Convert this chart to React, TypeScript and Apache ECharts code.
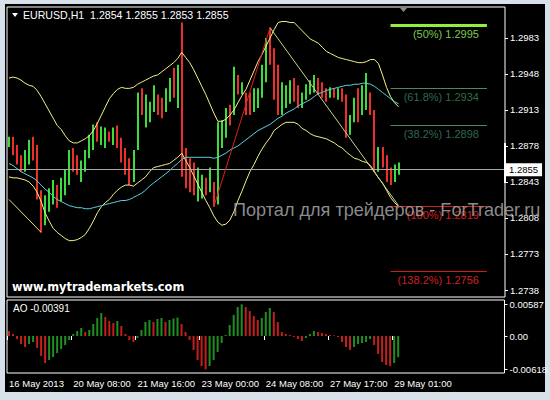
import React, { useEffect, useRef } from "react";
import * as echarts from "echarts";

// ---------- texts ----------
const titleText = "EURUSD,H1\u00a0\u00a01.2854 1.2855 1.2853 1.2855";
const watermarkSite = "www.mytrademarkets.com";
const watermarkPortal = "Портал для трейдеров - ForTrader.ru";

// ---------- axes ----------
const slotCount = 124; // 2-hour slots on the time axis (incl. empty right margin)
const timeTickIndex = [0, 16, 32, 48, 64, 80, 96];
const timeTickLabels = ["16 May 2013", "20 May 08:00", "21 May 16:00", "23 May 00:00", "24 May 08:00", "27 May 17:00", "29 May 01:00"];
const priceTicks = [1.2738, 1.2773, 1.2808, 1.2843, 1.2878, 1.2913, 1.2948, 1.2983];
const priceMin = 1.27312;
const priceMax = 1.30131;
const aoTicks = [-0.00618, 0, 0.00587];
const aoMin = -0.00685;
const aoMax = 0.00667;

// ---------- price bars: [open, close, low, high] ----------
const ohlc: number[][] = [
  [1.2878, 1.2886, 1.2877, 1.2887], [1.2886, 1.2872, 1.2869, 1.2887], [1.2872, 1.2862, 1.2860, 1.2879], [1.2862, 1.2856, 1.2853, 1.2869],
  [1.2856, 1.2870, 1.2853, 1.2874], [1.2868, 1.2882, 1.2860, 1.2884], [1.2882, 1.2866, 1.2864, 1.2887], [1.2866, 1.2830, 1.2826, 1.2879],
  [1.2830, 1.2806, 1.2794, 1.2835], [1.2806, 1.2822, 1.2801, 1.2830], [1.2820, 1.2832, 1.2814, 1.2837], [1.2826, 1.2840, 1.2821, 1.2845],
  [1.2840, 1.2824, 1.2818, 1.2840], [1.2826, 1.2842, 1.2824, 1.2847], [1.2838, 1.2852, 1.2830, 1.2855], [1.2845, 1.2870, 1.2840, 1.2874],
  [1.2870, 1.2856, 1.2853, 1.2876], [1.2862, 1.2852, 1.2850, 1.2869], [1.2848, 1.2860, 1.2843, 1.2864], [1.2858, 1.2870, 1.2853, 1.2874],
  [1.2868, 1.2884, 1.2866, 1.2889], [1.2878, 1.2896, 1.2874, 1.2899], [1.2898, 1.2884, 1.2882, 1.2901], [1.2882, 1.2894, 1.2879, 1.2897],
  [1.2880, 1.2892, 1.2876, 1.2896], [1.2892, 1.2884, 1.2882, 1.2892], [1.2882, 1.2894, 1.2879, 1.2896], [1.2896, 1.2880, 1.2876, 1.2898],
  [1.2884, 1.2866, 1.2862, 1.2886], [1.2870, 1.2852, 1.2850, 1.2876], [1.2860, 1.2843, 1.2840, 1.2866], [1.2845, 1.2870, 1.2843, 1.2874],
  [1.2876, 1.2925, 1.2874, 1.2930], [1.2925, 1.2910, 1.2908, 1.2934], [1.2900, 1.2922, 1.2896, 1.2928], [1.2906, 1.2918, 1.2901, 1.2921],
  [1.2914, 1.2932, 1.2911, 1.2937], [1.2926, 1.2912, 1.2908, 1.2928], [1.2920, 1.2908, 1.2905, 1.2925], [1.2912, 1.2930, 1.2911, 1.2934],
  [1.2924, 1.2940, 1.2921, 1.2944], [1.2950, 1.2926, 1.2925, 1.2954], [1.2918, 1.2950, 1.2915, 1.2957], [1.2948, 1.2855, 1.2848, 1.2998],
  [1.2866, 1.2840, 1.2837, 1.2876], [1.2858, 1.2836, 1.2833, 1.2866], [1.2850, 1.2832, 1.2830, 1.2862], [1.2826, 1.2850, 1.2824, 1.2857],
  [1.2830, 1.2846, 1.2827, 1.2850], [1.2845, 1.2832, 1.2830, 1.2847], [1.2835, 1.2852, 1.2833, 1.2857], [1.2843, 1.2822, 1.2819, 1.2843],
  [1.2824, 1.2896, 1.2821, 1.2901], [1.2880, 1.2900, 1.2876, 1.2903], [1.2890, 1.2912, 1.2886, 1.2915], [1.2915, 1.2902, 1.2898, 1.2918],
  [1.2910, 1.2950, 1.2908, 1.2955], [1.2945, 1.2930, 1.2928, 1.2947], [1.2930, 1.2938, 1.2928, 1.2940], [1.2930, 1.2912, 1.2908, 1.2930],
  [1.2928, 1.2912, 1.2908, 1.2930], [1.2914, 1.2930, 1.2911, 1.2934], [1.2918, 1.2932, 1.2915, 1.2934], [1.2928, 1.2952, 1.2925, 1.2957],
  [1.2945, 1.2978, 1.2940, 1.2983], [1.2986, 1.2962, 1.2957, 1.2993], [1.2966, 1.2928, 1.2923, 1.2973], [1.2945, 1.2912, 1.2908, 1.2957],
  [1.2912, 1.2936, 1.2908, 1.2940], [1.2920, 1.2934, 1.2915, 1.2937], [1.2922, 1.2938, 1.2919, 1.2942], [1.2940, 1.2924, 1.2921, 1.2944],
  [1.2932, 1.2918, 1.2915, 1.2937], [1.2918, 1.2928, 1.2915, 1.2930], [1.2925, 1.2935, 1.2923, 1.2938], [1.2930, 1.2940, 1.2928, 1.2942],
  [1.2935, 1.2945, 1.2930, 1.2947], [1.2944, 1.2932, 1.2928, 1.2944], [1.2938, 1.2928, 1.2925, 1.2940], [1.2932, 1.2924, 1.2921, 1.2934],
  [1.2926, 1.2933, 1.2925, 1.2935], [1.2933, 1.2926, 1.2925, 1.2934], [1.2925, 1.2932, 1.2923, 1.2934], [1.2932, 1.2924, 1.2921, 1.2934],
  [1.2926, 1.2890, 1.2886, 1.2928], [1.2890, 1.2904, 1.2889, 1.2908], [1.2904, 1.2920, 1.2901, 1.2925], [1.2930, 1.2906, 1.2901, 1.2934],
  [1.2910, 1.2932, 1.2908, 1.2937], [1.2920, 1.2945, 1.2913, 1.2949], [1.2928, 1.2912, 1.2908, 1.2930], [1.2912, 1.2858, 1.2853, 1.2913],
  [1.2858, 1.2872, 1.2853, 1.2877], [1.2874, 1.2862, 1.2857, 1.2877], [1.2864, 1.2848, 1.2843, 1.2869], [1.2852, 1.2844, 1.2840, 1.2857],
  [1.2844, 1.2856, 1.2843, 1.2860], [1.2851, 1.2855, 1.2850, 1.2862],
];

// ---------- indicators ----------
const bbUpper = [
  1.2944, 1.2945, 1.2944, 1.2942, 1.2939, 1.2937, 1.2936, 1.2932, 1.2926, 1.2919,
  1.2912, 1.2905, 1.2898, 1.2894, 1.2888, 1.2883, 1.2881, 1.2881, 1.2883, 1.2885,
  1.2888, 1.2893, 1.2900, 1.2908, 1.2916, 1.2924, 1.2929, 1.2933, 1.2935, 1.2934,
  1.2934, 1.2935, 1.2938, 1.2940, 1.2942, 1.2944, 1.2946, 1.2947, 1.2950, 1.2953,
  1.2956, 1.2959, 1.2963, 1.2969, 1.2964, 1.2959, 1.2952, 1.2944, 1.2936, 1.2928,
  1.2919, 1.2910, 1.2902, 1.2902, 1.2904, 1.2908, 1.2913, 1.2920, 1.2927, 1.2933,
  1.2942, 1.2951, 1.2960, 1.2967, 1.2975, 1.2983, 1.2991, 1.2998, 1.2999, 1.2999,
  1.2998, 1.2998, 1.2994, 1.2990, 1.2986, 1.2982, 1.2980, 1.2978, 1.2974, 1.2970,
  1.2968, 1.2966, 1.2964, 1.2963, 1.2962, 1.2961, 1.2960, 1.2959, 1.2959, 1.2960,
  1.2962, 1.2962, 1.2958, 1.2947, 1.2935, 1.2926, 1.2920, 1.2916,
];
const bbLower = [
  1.2848, 1.2847, 1.2847, 1.2846, 1.2845, 1.2843, 1.2839, 1.2833, 1.2824, 1.2813,
  1.2805, 1.2798, 1.2794, 1.2791, 1.2788, 1.2786, 1.2786, 1.2787, 1.2789, 1.2792,
  1.2798, 1.2805, 1.2813, 1.2819, 1.2823, 1.2826, 1.2831, 1.2835, 1.2838, 1.2840,
  1.2840, 1.2839, 1.2842, 1.2845, 1.2848, 1.2853, 1.2857, 1.2858, 1.2859, 1.2860,
  1.2861, 1.2864, 1.2867, 1.2871, 1.2864, 1.2857, 1.2849, 1.2841, 1.2833, 1.2825,
  1.2818, 1.2810, 1.2804, 1.2801, 1.2802, 1.2806, 1.2814, 1.2825, 1.2834, 1.2844,
  1.2853, 1.2860, 1.2868, 1.2875, 1.2881, 1.2886, 1.2893, 1.2896, 1.2899, 1.2901,
  1.2901, 1.2901, 1.2899, 1.2895, 1.2893, 1.2890, 1.2888, 1.2887, 1.2886, 1.2885,
  1.2883, 1.2881, 1.2878, 1.2876, 1.2872, 1.2869, 1.2866, 1.2865, 1.2863, 1.2862,
  1.2859, 1.2853, 1.2847, 1.2842, 1.2835, 1.2828, 1.2823, 1.2819,
];
const movingAverage = [
  1.2861, 1.2859, 1.2856, 1.2853, 1.2851, 1.2849, 1.2847, 1.2844, 1.2840, 1.2836,
  1.2833, 1.2829, 1.2826, 1.2824, 1.2822, 1.2820, 1.2819, 1.2818, 1.2818, 1.2817,
  1.2817, 1.2818, 1.2819, 1.2820, 1.2821, 1.2822, 1.2823, 1.2824, 1.2825, 1.2825,
  1.2826, 1.2828, 1.2830, 1.2832, 1.2835, 1.2839, 1.2842, 1.2845, 1.2848, 1.2851,
  1.2854, 1.2858, 1.2861, 1.2865, 1.2867, 1.2867, 1.2867, 1.2867, 1.2867, 1.2867,
  1.2867, 1.2866, 1.2867, 1.2869, 1.2871, 1.2874, 1.2876, 1.2878, 1.2881, 1.2884,
  1.2887, 1.2890, 1.2893, 1.2895, 1.2897, 1.2899, 1.2902, 1.2905, 1.2907, 1.2910,
  1.2912, 1.2914, 1.2917, 1.2919, 1.2921, 1.2923, 1.2926, 1.2929, 1.2930, 1.2932,
  1.2933, 1.2934, 1.2935, 1.2936, 1.2937, 1.2937, 1.2938, 1.2938, 1.2939, 1.2939,
  1.2938, 1.2936, 1.2933, 1.2930, 1.2927, 1.2924, 1.2921, 1.2919,
];
const aoValues = [
  0.00093, 0.00037, -0.00056, -0.00148, -0.00204, -0.00148, -0.00111, -0.00222, -0.0037, -0.005,
  -0.00444, -0.00389, -0.00315, -0.00241, -0.00167, -0.00074, 0.00037, 0.00093, 0.00148, 0.00074,
  0.00111, 0.00222, 0.00333, 0.00426, 0.00352, 0.00278, 0.00241, 0.00278, 0.00185, 0.00037,
  -0.00074, -0.00111, -0.00037, 0.00111, 0.00259, 0.00296, 0.00259, 0.00315, 0.00333, 0.00259,
  0.00296, 0.00324, 0.00343, 0.00222, 0.00074, -0.00074, -0.00259, -0.00444, -0.00556, -0.00618,
  -0.00556, -0.00444, -0.00296, -0.0013, 0.00019, 0.00204, 0.00389, 0.00537, 0.00587, 0.00537,
  0.00463, 0.0037, 0.00296, 0.00333, 0.00444, 0.00519, 0.00444, 0.00259, 0.00074, 0.00037,
  0.00019, -0.00019, -0.00056, -0.00093, -0.00037, 0.00037, 0.00093, 0.00074, 0.00056, 0.00037,
  0.00019, 0.00009, -0.00019, -0.00111, -0.00204, -0.00259, -0.00204, -0.00148, -0.0013, -0.00111,
  -0.00056, -0.00167, -0.00333, -0.00481, -0.00537, -0.00556, -0.005, -0.00391,
];

// ---------- fibonacci & trend lines ----------
const fibNames = ["50%", "61.8%", "38.2%", "100%", "138.2%"];
const fibPrices = [1.2995, 1.2934, 1.2898, 1.2819, 1.2756];
const fibFromSlot = 95;
const fibToSlot = 119;
const trendUp = [[51, 1.2819], [65, 1.2993]];
const trendDown = [[65, 1.2993], [97, 1.282]];
const trendOld = [[0, 1.2826], [8, 1.2794]];

// ---------- styles ----------
const BULL = "#3ddc3d";
const BEAR = "#ec2f2a";
const AO_UP = "#1f8f22";
const AO_DOWN = "#c41f1c";
const fibLineColors = ["#8fef3a", "#4a8a62", "#4a8a62", "#d21c1c", "#d21c1c"];
const fibTextColors = ["#7cc84c", "#2f6a4c", "#2f6a4c", "#cc2222", "#cc2222"];
const fibLineWidths = [3, 1, 1, 1, 1];
const AXIS_FONT = "Liberation Sans";

export default function App() {
  const ref = useRef<HTMLDivElement>(null);

  useEffect(() => {
    document.body.style.margin = "0";
    const chart = echarts.init(ref.current!, null, { renderer: "svg" });
    const categories = Array.from({ length: slotCount }, (_, i) => String(i));
    const labelMap: Record<number, string> = {};
    timeTickIndex.forEach((idx, k) => (labelMap[idx] = timeTickLabels[k]));
    const lastClose = ohlc[ohlc.length - 1][1];

    const fibLines = fibPrices.map((p, k) => [
      {
        coord: [fibFromSlot, p],
        lineStyle: { color: fibLineColors[k], width: fibLineWidths[k], type: "solid" },
        label: {
          show: true,
          position: "insideEndBottom",
          formatter: `(${fibNames[k]}) ${p.toFixed(4)}`,
          color: fibTextColors[k],
          fontSize: 11,
          fontFamily: AXIS_FONT,
          distance: [8, 3],
        },
      },
      { coord: [fibToSlot, p] },
    ]);
    const seg = (pts: number[][], color: string) => [
      { coord: pts[0], lineStyle: { color, width: 1, type: "solid" }, label: { show: false } },
      { coord: pts[1] },
    ];

    const option: any = {
      animation: false,
      backgroundColor: "transparent",
      grid: [
        { left: 7, top: 7, width: 498, height: 290, show: true, backgroundColor: "#000", borderColor: "#fff", borderWidth: 1 },
        { left: 7, top: 300, width: 498, height: 73, show: true, backgroundColor: "#000", borderColor: "#fff", borderWidth: 1 },
      ],
      xAxis: [
        { type: "category", gridIndex: 0, data: categories, show: false, boundaryGap: true },
        {
          type: "category",
          gridIndex: 1,
          data: categories,
          boundaryGap: true,
          axisLine: { show: false },
          axisTick: {
            show: true,
            alignWithLabel: false,
            interval: (i: number) => labelMap[i] !== undefined,
            length: 4,
            lineStyle: { color: "#fff" },
          },
          axisLabel: {
            interval: (i: number) => labelMap[i] !== undefined,
            formatter: (v: string) => labelMap[Number(v)] ?? "",
            color: "#fff",
            fontSize: 9.5,
            fontFamily: AXIS_FONT,
            align: "left",
            margin: 5,
          },
          splitLine: { show: false },
        },
      ],
      yAxis: [
        {
          type: "value",
          gridIndex: 0,
          position: "right",
          min: priceMin,
          max: priceMax,
          axisLine: { show: false },
          splitLine: { show: false },
          axisTick: { show: true, customValues: priceTicks, length: 3, lineStyle: { color: "#fff" } },
          axisLabel: {
            customValues: priceTicks,
            formatter: (v: number) => v.toFixed(4),
            color: "#fff",
            fontSize: 9.5,
            fontFamily: AXIS_FONT,
            margin: 5,
          },
        },
        {
          type: "value",
          gridIndex: 1,
          position: "right",
          min: aoMin,
          max: aoMax,
          axisLine: { show: false },
          splitLine: { show: false },
          axisTick: { show: true, customValues: aoTicks, length: 3, lineStyle: { color: "#fff" } },
          axisLabel: {
            customValues: aoTicks,
            formatter: (v: number) => (v === 0 ? "0.00" : v.toFixed(5)),
            color: "#fff",
            fontSize: 9.5,
            fontFamily: AXIS_FONT,
            margin: 5,
          },
        },
      ],
      series: [
        {
          type: "custom",
          xAxisIndex: 0,
          yAxisIndex: 0,
          z: 2,
          data: ohlc.map((d, i) => [i, d[0], d[1], d[2], d[3]]),
          encode: { x: 0, y: [1, 2, 3, 4] },
          renderItem: (_params: any, api: any) => {
            const i = api.value(0);
            const o = api.value(1);
            const c = api.value(2);
            const top = api.coord([i, api.value(4)]);
            const bot = api.coord([i, api.value(3)]);
            const x = Math.round(top[0]);
            return {
              type: "rect",
              shape: { x: x - 1, y: top[1], width: 2, height: Math.max(1, bot[1] - top[1]) },
              style: { fill: c >= o ? BULL : BEAR },
            };
          },
        },
        {
          type: "line",
          xAxisIndex: 0,
          yAxisIndex: 0,
          data: bbUpper,
          symbol: "none",
          z: 3,
          lineStyle: { color: "#f4f28a", width: 1 },
        },
        {
          type: "line",
          xAxisIndex: 0,
          yAxisIndex: 0,
          data: bbLower,
          symbol: "none",
          z: 3,
          lineStyle: { color: "#f4f28a", width: 1 },
        },
        {
          type: "line",
          xAxisIndex: 0,
          yAxisIndex: 0,
          data: movingAverage,
          symbol: "none",
          z: 3,
          lineStyle: { color: "#5fd0e0", width: 1 },
          markLine: {
            silent: true,
            precision: 5,
            symbol: ["none", "none"],
            animation: false,
            label: { show: false },
            data: [
              {
                yAxis: lastClose,
                lineStyle: { color: "#a9a9a9", width: 1, type: "solid" },
                label: {
                  show: true,
                  position: "end",
                  formatter: lastClose.toFixed(4),
                  backgroundColor: "#fff",
                  color: "#000",
                  padding: [2, 4, 1, 4],
                  distance: 0,
                  fontSize: 9.5,
                  fontFamily: AXIS_FONT,
                },
              },
              seg(trendUp, "#e0201c"),
              seg(trendDown, "#c8d48c"),
              seg(trendOld, "#e8e27a"),
              ...fibLines,
            ],
          },
        },
        {
          type: "bar",
          xAxisIndex: 1,
          yAxisIndex: 1,
          data: aoValues,
          barWidth: 2,
          itemStyle: {
            color: (p: any) =>
              p.dataIndex > 0 && aoValues[p.dataIndex] >= aoValues[p.dataIndex - 1] ? AO_UP : AO_DOWN,
          },
        },
      ],
      graphic: [
        { type: "polygon", z: 100, shape: { points: [[12, 13], [18, 13], [15, 17]] }, style: { fill: "#fff" } },
        {
          type: "text",
          z: 100,
          x: 23,
          y: 15,
          style: { text: titleText, fill: "#fff", font: `10.6px "${AXIS_FONT}"`, verticalAlign: "middle" },
        },
        { type: "polygon", z: 100, shape: { points: [[400, 8], [407, 8], [403.5, 12]] }, style: { fill: "#8a8a8a" } },
        { type: "rect", z: 100, shape: { x: 504, y: 143, width: 2, height: 40 }, style: { fill: "#fff" } },
        {
          type: "text",
          z: 100,
          x: 13,
          y: 308,
          style: {
            text: `AO ${aoValues[aoValues.length - 1].toFixed(5)}`,
            fill: "#fff",
            font: `10px "${AXIS_FONT}"`,
            verticalAlign: "middle",
          },
        },
        {
          type: "text",
          z: 100,
          x: 12,
          y: 287,
          style: { text: watermarkSite, fill: "#fff", font: 'bold 11.4px "DejaVu Sans"', verticalAlign: "middle" },
        },
        {
          type: "text",
          z: 100,
          x: 233,
          y: 210,
          style: {
            text: watermarkPortal,
            fill: "rgba(165,165,165,0.85)",
            font: `18.1px "${AXIS_FONT}"`,
            verticalAlign: "middle",
          },
        },
      ],
    };
    chart.setOption(option);
    return () => chart.dispose();
  }, []);

  return (
    <div style={{ position: "fixed", left: 0, top: 0, width: 550, height: 400, background: "#d8e0ea", overflow: "hidden" }}>
      <div style={{ position: "absolute", left: 5, top: 4, width: 540, height: 388, background: "#000" }} />
      <div ref={ref} style={{ position: "absolute", left: 0, top: 0, width: 550, height: 400 }} />
    </div>
  );
}
